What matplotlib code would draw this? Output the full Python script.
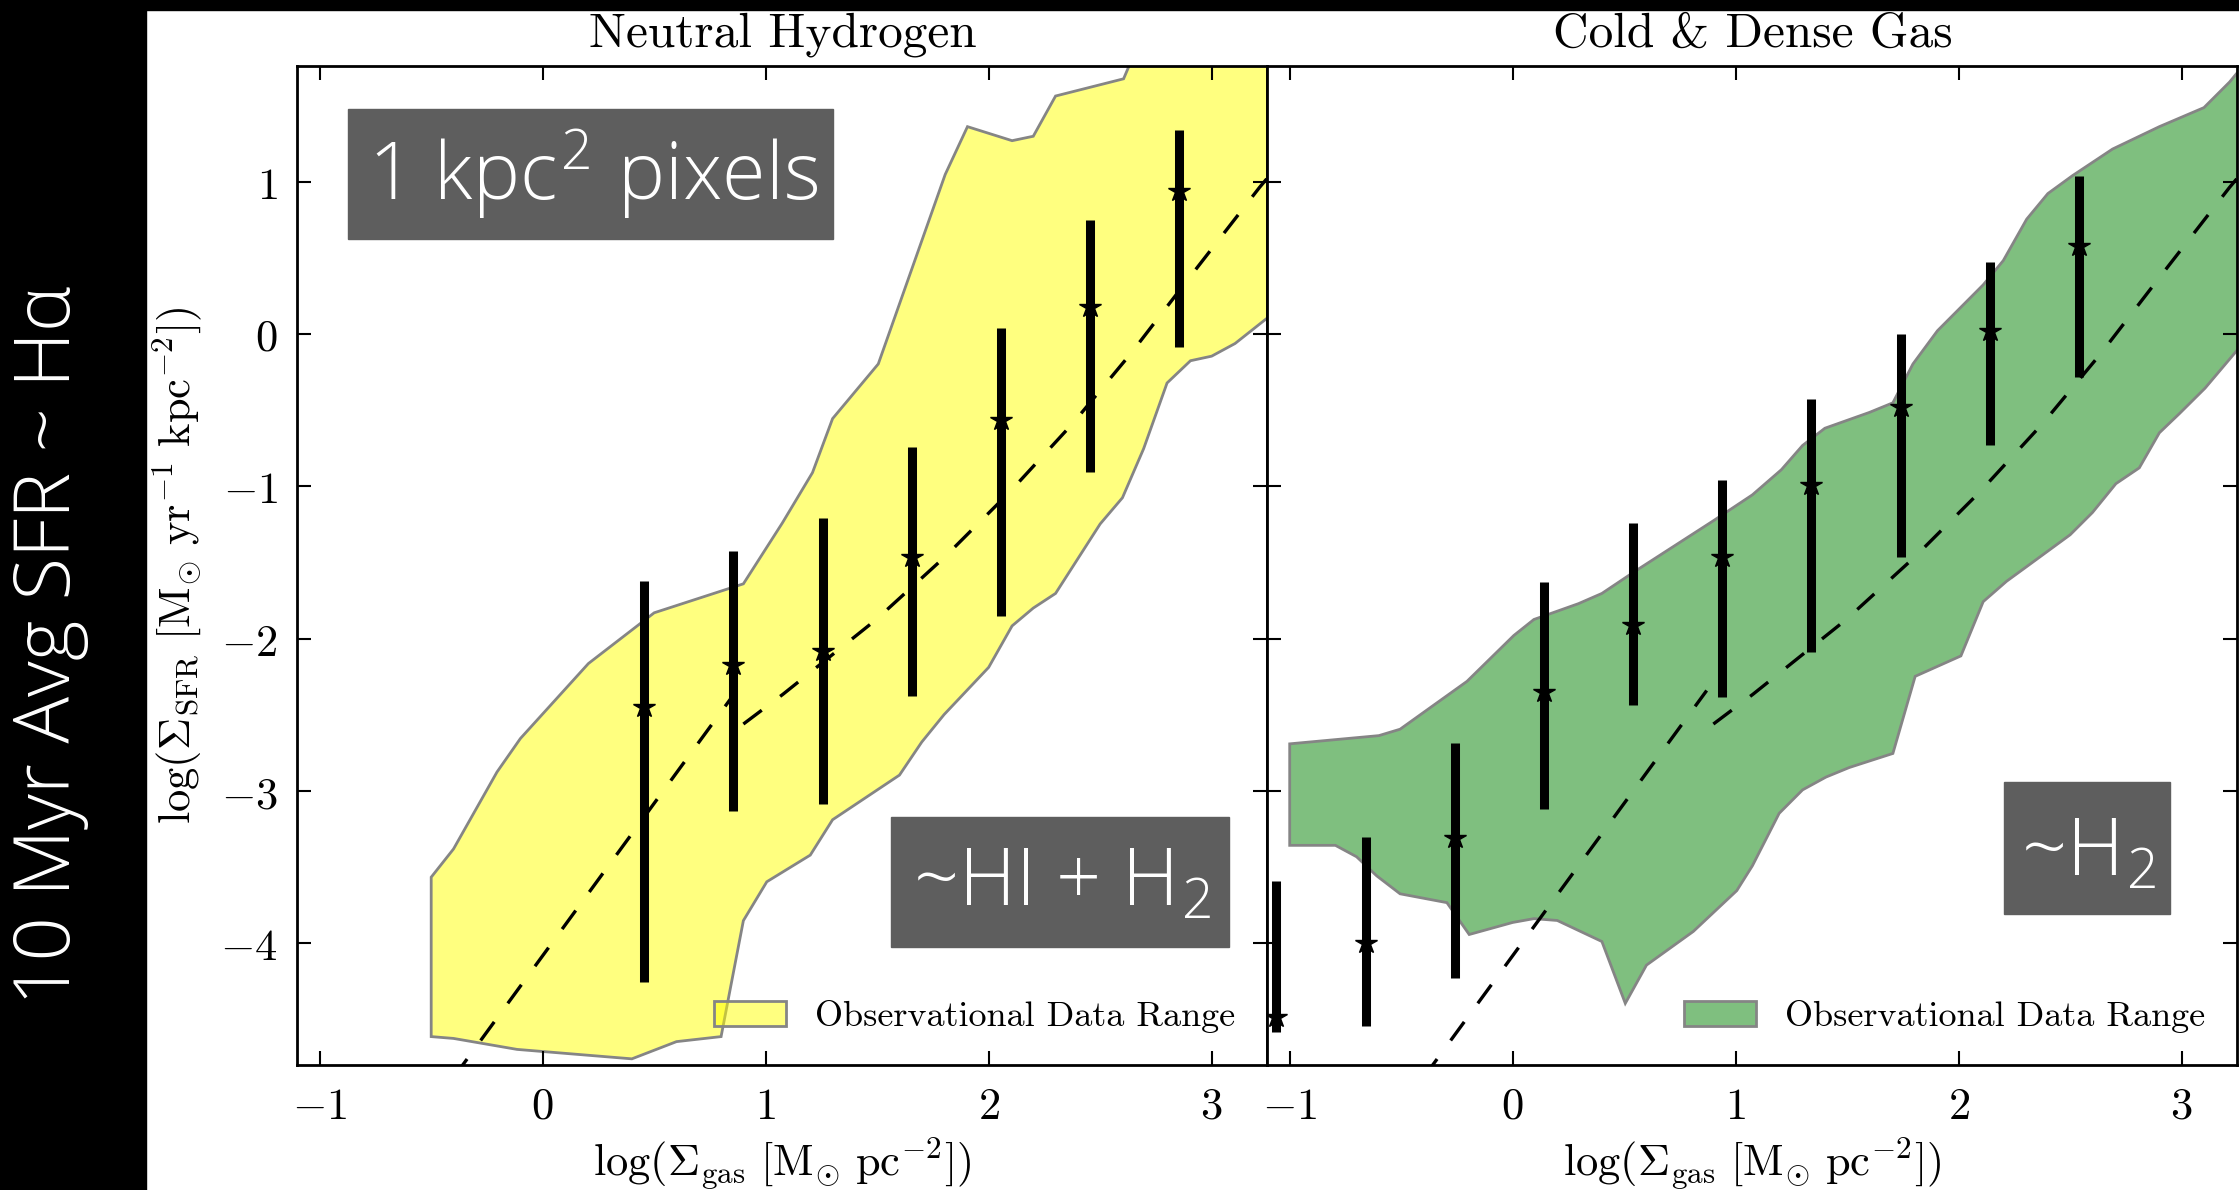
import matplotlib
matplotlib.use('Agg')
import matplotlib.pyplot as plt
from matplotlib.patches import Rectangle
from matplotlib.ticker import MultipleLocator, FuncFormatter
import numpy as np

plt.rcParams['mathtext.fontset'] = 'cm'
plt.rcParams['axes.linewidth'] = 2.0

# binned simulation pixels, neutral gas (HI + H2)
hi_x = [0.455, 0.855, 1.255, 1.655, 2.055, 2.455, 2.855]
hi_med = [-2.45, -2.17, -2.08, -1.465, -0.565, 0.176, 0.94]
hi_top = [-1.62, -1.425, -1.205, -0.745, 0.042, 0.749, 1.335]
hi_bot = [-4.255, -3.13, -3.085, -2.377, -1.849, -0.904, -0.084]

# binned simulation pixels, cold & dense gas (H2)
h2_x = [-1.06, -0.66, -0.26, 0.14, 0.54, 0.94, 1.34, 1.74, 2.14, 2.54]
h2_med = [-4.48, -4.00, -3.305, -2.35, -1.91, -1.465, -0.99, -0.48, 0.02, 0.575]
h2_top = [-3.59, -3.30, -2.685, -1.63, -1.24, -0.96, -0.425, 0.0, 0.47, 1.035]
h2_bot = [-4.58, -4.54, -4.225, -3.12, -2.435, -2.385, -2.09, -1.465, -0.73, -0.28]

# outline of the observed range (upper edge left->right, lower edge right->left)
hi_obs_x = [-0.50, -0.50, -0.40, -0.205, -0.10, 0.205, 0.50, 0.90, 1.075, 1.21, 1.30,
            1.505, 1.805, 1.905, 2.105, 2.20, 2.30, 2.605, 2.70, 3.40,
            3.40, 3.25, 3.105, 3.00, 2.905, 2.80, 2.695, 2.60, 2.50, 2.30, 2.20,
            2.105, 2.00, 1.80, 1.70, 1.60, 1.30, 1.20, 1.005, 0.90, 0.80, 0.60,
            0.40, -0.115, -0.40]
hi_obs_y = [-4.611, -3.565, -3.38, -2.875, -2.655, -2.163, -1.83, -1.64, -1.24, -0.91, -0.556,
            -0.197, 1.046, 1.36, 1.268, 1.297, 1.561, 1.674, 2.0, 2.0,
            0.285, 0.105, -0.063, -0.146, -0.176, -0.322, -0.753, -1.075, -1.247, -1.703, -1.799,
            -1.916, -2.188, -2.498, -2.678, -2.895, -3.188, -3.42, -3.595, -3.85, -4.611, -4.644,
            -4.757, -4.695, -4.623]

h2_obs_x = [-1.00, -1.00, -0.60, -0.505, -0.205, 0.005, 0.095, 0.295, 0.40, 0.545, 0.90,
            1.075, 1.205, 1.30, 1.40, 1.60, 1.705, 1.795, 1.905, 2.11, 2.20, 2.305, 2.40,
            2.51, 2.69, 2.90, 3.10, 3.215, 3.25, 3.40,
            3.40, 3.25, 3.105, 2.99, 2.90, 2.81, 2.705, 2.60, 2.50, 2.305, 2.215, 2.11,
            2.01, 1.805, 1.705, 1.51, 1.405, 1.30, 1.195, 1.075, 1.005, 0.81, 0.60, 0.505,
            0.40, 0.20, 0.095, 0.0, -0.195, -0.295, -0.505, -0.61, -0.70, -0.795]
h2_obs_y = [-3.356, -2.69, -2.636, -2.594, -2.28, -1.979, -1.874, -1.77, -1.703, -1.561, -1.226,
            -1.056, -0.891, -0.732, -0.619, -0.515, -0.452, -0.197, 0.021, 0.322, 0.481, 0.753, 0.921,
            1.038, 1.213, 1.36, 1.485, 1.653, 1.715, 2.0,
            0.155, -0.105, -0.356, -0.523, -0.649, -0.879, -0.983, -1.172, -1.318, -1.527, -1.623, -1.757,
            -2.113, -2.247, -2.753, -2.845, -2.908, -2.992, -3.146, -3.49, -3.653, -3.921, -4.142, -4.393,
            -3.987, -3.849, -3.837, -3.862, -3.941, -3.732, -3.674, -3.556, -3.431, -3.356]

# star formation relation drawn in both panels: steep low-density branch and high-density branch
rel_lo_x = [-0.40, 0.87]
rel_lo_y = [-4.88, -2.34]
rel_hi_x = [0.90, 1.078, 1.496, 1.803, 2.094, 2.378, 2.639, 2.893, 3.215, 3.30]
rel_hi_y = [-2.56, -2.364, -1.874, -1.464, -1.038, -0.586, -0.126, 0.356, 0.962, 1.11]

W, H = 2239, 1190
fig = plt.figure(figsize=(W / 100, H / 100), dpi=100)
fig.patch.set_facecolor('white')

sans = ['Open Sans', 'Lato', 'DejaVu Sans']

# black slide borders
fig.add_artist(Rectangle((0, 0), 146 / W, 1, transform=fig.transFigure, color='k', zorder=0))
fig.add_artist(Rectangle((0, 1 - 10 / H), 1, 10 / H, transform=fig.transFigure, color='k', zorder=0))
fig.text(50 / W, 1 - 645 / H, '10 Myr Avg SFR ~ H\u03b1', rotation=90, color='white',
         fontsize=56, family=sans, weight='light', ha='center', va='center')

ax_w = 970 / W
ax_b = (H - 1065.4) / H
ax_h = 999.7 / H
ax1 = fig.add_axes([297.4 / W, ax_b, ax_w, ax_h])
ax2 = fig.add_axes([1267.4 / W, ax_b, ax_w, ax_h])

fmt = FuncFormatter(lambda v, p: r'$%d$' % int(round(v)))
cm_font = ['cmr10', 'DejaVu Serif']

panels = [
    (ax1, hi_x, hi_med, hi_top, hi_bot, hi_obs_x, hi_obs_y, (1.0, 1.0, 0.0, 0.5), 'Neutral Hydrogen'),
    (ax2, h2_x, h2_med, h2_top, h2_bot, h2_obs_x, h2_obs_y, (0.0, 0.5, 0.0, 0.5), 'Cold & Dense Gas'),
]
for ax, x, med, top, bot, ox, oy, col, title in panels:
    ax.fill(ox, oy, facecolor=col, edgecolor='#858585', lw=2.0,
            label='Observational Data Range', zorder=1)
    ax.plot(rel_lo_x, rel_lo_y, color='k', lw=2.4, dashes=(6.9, 6.9), zorder=2)
    ax.plot(rel_hi_x, rel_hi_y, color='k', lw=2.4, dashes=(6.9, 6.9), zorder=2)
    yerr = [np.subtract(med, bot), np.subtract(top, med)]
    ax.errorbar(x, med, yerr=yerr, fmt='*', color='k', ms=16, elinewidth=6.5,
                capsize=0, zorder=3)
    ax.set_xlim(-1.1, 3.25)
    ax.set_ylim(-4.8, 1.76)
    ax.xaxis.set_major_locator(MultipleLocator(1))
    ax.yaxis.set_major_locator(MultipleLocator(1))
    ax.xaxis.set_major_formatter(fmt)
    ax.yaxis.set_major_formatter(fmt)
    ax.tick_params(direction='in', length=10, width=1.5, top=True, right=True,
                   labelsize=32, pad=14)
    ax.set_title(title, fontsize=35.5, pad=14, family=cm_font)
    ax.set_xlabel(r'$\log(\Sigma_{\rm gas}\ [{\rm M}_{\odot}\ {\rm pc}^{-2}])$', fontsize=32, labelpad=6)
    ax.legend(loc='lower right', frameon=False, prop={'family': cm_font, 'size': 26})

ax2.tick_params(labelleft=False)
ax1.set_ylabel(r'$\log(\Sigma_{\rm SFR}\ [{\rm M}_{\odot}\ {\rm yr}^{-1}\ {\rm kpc}^{-2}])$',
               fontsize=32, labelpad=12)

# grey annotation boxes
boxes = [
    ((348, 109, 833, 239), (593, 200), '1 kpc$^\\mathregular{2}$ pixels'),
    ((891, 817, 1229, 947), (1062, 906), '~HI + H$_\\mathregular{2}$'),
    ((2004, 782, 2170, 914), (2089, 876), '~H$_\\mathregular{2}$'),
]
for (x0, y0, x1, y1), (tx, ty), s in boxes:
    fig.add_artist(Rectangle((x0 / W, 1 - y1 / H), (x1 - x0) / W, (y1 - y0) / H,
                             transform=fig.transFigure, color='#5e5e5e', zorder=5))
    fig.text(tx / W, 1 - ty / H, s, color='white', fontsize=57, family=sans,
             weight='light', ha='center', va='baseline', zorder=6)

fig.savefig('out.png', dpi=100, facecolor=fig.get_facecolor())
